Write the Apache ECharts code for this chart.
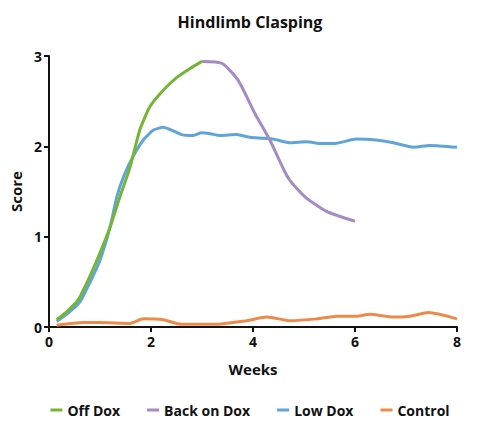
<!DOCTYPE html>
<html>
<head>
<meta charset="utf-8">
<script src="https://cdn.jsdelivr.net/npm/echarts@6/dist/echarts.min.js"></script>
<style>
  html, body { margin: 0; padding: 0; background: #fff; }
  #chart { width: 500px; height: 429px; }
</style>
</head>
<body>
<div id="chart"></div>
<script>
// 그림에서 읽은 값 (주, 점수)
const offDoxWeeks = [0.15, 0.35, 0.57, 0.8, 1.0, 1.2, 1.39, 1.59, 1.78, 1.98, 2.24, 2.5, 2.76, 3.0];
const offDoxScore = [0.08, 0.17, 0.30, 0.56, 0.82, 1.11, 1.44, 1.77, 2.18, 2.44, 2.62, 2.76, 2.86, 2.94];

const backOnDoxWeeks = [3.0, 3.39, 3.71, 4.04, 4.33, 4.69, 5.02, 5.44, 6.0];
const backOnDoxScore = [2.94, 2.92, 2.73, 2.36, 2.07, 1.65, 1.44, 1.28, 1.17];

const lowDoxWeeks = [0.15, 0.41, 0.61, 0.8, 1.0, 1.2, 1.33, 1.46, 1.65, 1.85, 2.05, 2.24, 2.4, 2.6, 2.83, 2.99, 3.16, 3.35, 3.68, 3.94, 4.2, 4.4, 4.73, 5.05, 5.35, 5.58, 6.03, 6.42, 6.75, 7.15, 7.47, 8.0];
const lowDoxScore = [0.06, 0.17, 0.28, 0.49, 0.74, 1.11, 1.44, 1.66, 1.89, 2.07, 2.18, 2.21, 2.18, 2.13, 2.12, 2.15, 2.14, 2.12, 2.13, 2.10, 2.09, 2.08, 2.04, 2.05, 2.03, 2.03, 2.08, 2.07, 2.04, 1.99, 2.01, 1.99];

const controlWeeks = [0.15, 0.67, 1.0, 1.59, 1.85, 2.24, 2.6, 3.3, 3.6, 3.88, 4.27, 4.73, 5.25, 5.64, 6.03, 6.29, 6.75, 7.08, 7.44, 8.0];
const controlScore = [0.02, 0.05, 0.05, 0.04, 0.09, 0.08, 0.03, 0.03, 0.05, 0.07, 0.11, 0.07, 0.09, 0.12, 0.12, 0.14, 0.11, 0.12, 0.16, 0.09];

const xTicks = [0, 2, 4, 6, 8];
const yTicks = [0, 1, 2, 3];

const FONT = "'Open Sans', sans-serif";
const INK = "#111";

const pairs = (xs, ys) => xs.map((x, i) => [x, ys[i]]);

function lineSeries(name, xs, ys, color) {
  return {
    name, type: "line", data: pairs(xs, ys),
    smooth: 0.2, showSymbol: false, symbol: "none",
    lineStyle: { color, width: 3 }, itemStyle: { color },
    z: name === "Control" ? 2 : 3
  };
}

const chart = echarts.init(document.getElementById("chart"), null, { renderer: "svg" });
chart.setOption({
  backgroundColor: "#fff",
  animation: false,
  textStyle: { fontFamily: FONT },
  title: {
    text: "Hindlimb Clasping", left: "center", top: 9,
    textStyle: { fontFamily: FONT, fontSize: 16, fontWeight: "bold", color: INK }
  },
  grid: { left: 49, right: 43, top: 56, bottom: 102 },
  xAxis: {
    type: "value", min: 0, max: 8, interval: 2,
    name: "Weeks", nameLocation: "middle", nameGap: 34,
    nameTextStyle: { fontFamily: FONT, fontSize: 15, fontWeight: "bold", color: INK },
    axisLine: { lineStyle: { color: INK, width: 2 } },
    axisTick: { show: true, length: 5, lineStyle: { color: INK, width: 2 } },
    axisLabel: { fontFamily: FONT, fontSize: 14, fontWeight: "bold", color: INK, margin: 7,
      formatter: (v) => xTicks.includes(v) ? String(v) : "" },
    splitLine: { show: false }
  },
  yAxis: {
    type: "value", min: 0, max: 3, interval: 1,
    name: "Score", nameLocation: "middle", nameGap: 26, nameRotate: 90,
    nameTextStyle: { fontFamily: FONT, fontSize: 15, fontWeight: "bold", color: INK },
    axisLine: { show: true, lineStyle: { color: INK, width: 2 } },
    axisTick: { show: true, length: 5, lineStyle: { color: INK, width: 2 } },
    axisLabel: { fontFamily: FONT, fontSize: 14, fontWeight: "bold", color: INK, margin: 7,
      formatter: (v) => yTicks.includes(v) ? String(v) : "" },
    splitLine: { show: false }
  },
  legend: {
    bottom: 7, left: "center", itemGap: 27,
    icon: "rect", itemWidth: 12, itemHeight: 3,
    textStyle: { fontFamily: FONT, fontSize: 14, fontWeight: "bold", color: INK },
    data: ["Off Dox", "Back on Dox", "Low Dox", "Control"]
  },
  series: [
    lineSeries("Control", controlWeeks, controlScore, "#ee8a48"),
    lineSeries("Low Dox", lowDoxWeeks, lowDoxScore, "#5fa4d8"),
    lineSeries("Off Dox", offDoxWeeks, offDoxScore, "#74b634"),
    lineSeries("Back on Dox", backOnDoxWeeks, backOnDoxScore, "#a48bc4")
  ]
});
</script>
</body>
</html>
